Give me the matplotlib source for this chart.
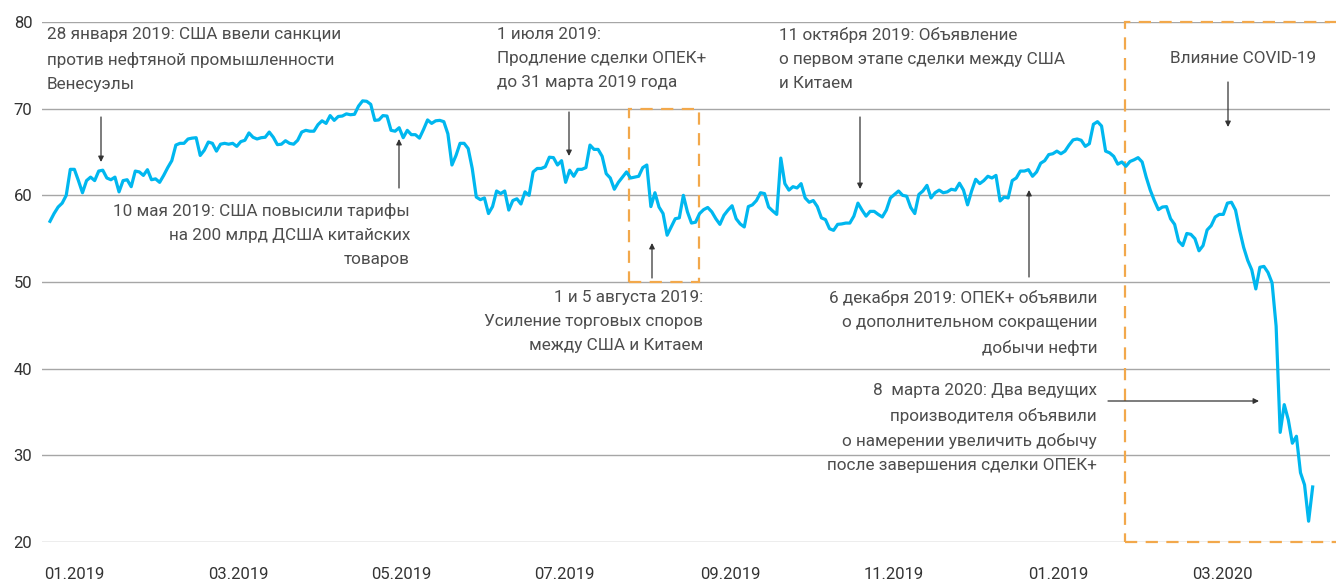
import matplotlib
matplotlib.use("Agg")
import matplotlib.pyplot as plt
from matplotlib.patches import Rectangle

plt.rcParams['font.family'] = ['Liberation Sans Narrow', 'Roboto', 'DejaVu Sans']

# ---------------- data (Brent, USD/bbl, daily trading observations) ----------------
price_2019_h1 = [
    57.0, 57.9, 58.65, 59.1, 60.0, 63.0, 63.0, 61.7, 60.3, 61.7,
    62.1, 61.7, 62.8, 62.9, 62.0, 61.8, 62.1, 60.4, 61.7, 61.8,
    61.0, 62.8, 62.7, 62.3, 62.96, 61.8, 61.9, 61.5, 62.3, 63.2,
    64.0, 65.8, 66.0, 66.0, 66.5, 66.6, 66.65, 64.6, 65.2, 66.15,
    66.0, 65.1, 65.9, 66.0, 65.9, 66.0, 65.65, 66.2, 66.35, 67.2,
    66.7, 66.5, 66.65, 66.7, 67.3, 66.7, 65.85, 65.9, 66.3, 66.0,
    65.9, 66.35, 67.3, 67.5, 67.4, 67.4, 68.15, 68.6, 68.3, 69.2,
    68.65, 69.1, 69.15, 69.4, 69.3, 69.35, 70.3, 70.9, 70.85, 70.5,
    68.65, 68.7, 69.2, 69.15, 67.5, 67.4, 67.8, 66.65, 67.5, 67.0,
    67.0, 66.6, 67.6, 68.7, 68.3, 68.6, 68.65, 68.5, 67.1, 63.5,
    64.6, 66.0, 66.0, 65.4, 63.1, 59.8, 59.5, 59.7, 57.9, 58.7,
    60.5, 60.2, 60.5, 58.3, 59.4, 59.6, 59.0, 60.4, 60.0, 62.7,
    63.1, 63.1, 63.3, 64.4, 64.35, 63.5, 64.0, 61.5, 62.9, 62.2,
]
price_2019_h2 = [
    63.0, 63.0, 63.2, 65.8, 65.3, 65.3, 64.5, 62.5, 62.0, 60.7,
    61.5, 62.1, 62.7, 62.0, 62.1, 62.2, 63.2, 63.5, 58.7, 60.3,
    58.65, 57.9, 55.4, 56.35, 57.3, 57.4, 60.0, 58.1, 56.8, 56.9,
    57.9, 58.35, 58.6, 58.1, 57.3, 56.65, 57.7, 58.3, 58.8, 57.3,
    56.7, 56.35, 58.7, 58.9, 59.4, 60.3, 60.2, 58.65, 58.2, 57.8,
    64.3, 61.35, 60.6, 61.0, 60.85, 61.35, 59.7, 59.2, 59.4, 58.7,
    57.4, 57.2, 56.15, 55.96, 56.65, 56.7, 56.8, 56.8, 57.6, 59.1,
    58.3, 57.6, 58.15, 58.15, 57.8, 57.5, 58.3, 59.7, 60.1, 60.5,
    60.0, 59.9, 58.6, 57.9, 60.1, 60.5, 61.15, 59.7, 60.3, 60.6,
    60.3, 60.4, 60.7, 60.6, 61.4, 60.6, 58.9, 60.5, 61.85, 61.35,
    61.7, 62.2, 62.0, 62.3, 59.35, 59.8, 59.7, 61.7, 62.0, 62.8,
    62.8, 62.96, 62.2, 62.7, 63.7, 64.0, 64.7, 64.8,
]
price_2020 = [
    65.1, 64.8, 65.1, 65.8, 66.4, 66.5, 66.35, 65.65, 65.96, 68.2,
    68.5, 68.0, 65.1, 64.9, 64.5, 63.6, 63.85, 63.35, 63.9, 64.1,
    64.35, 63.85, 62.1, 60.6, 59.4, 58.35, 58.65, 58.7, 57.3, 56.65,
    54.7, 54.2, 55.6, 55.5, 55.0, 53.6, 54.2, 56.0, 56.5, 57.5,
    57.8, 57.8, 59.1, 59.2, 58.3, 56.0, 54.0, 52.5, 51.4, 49.2,
    51.7, 51.8, 51.1, 49.9, 44.9, 32.65, 35.85, 34.1, 31.4, 32.2,
    28.0, 26.6, 22.4, 26.35,
]
price = price_2019_h1 + price_2019_h2 + price_2020

tick_labels = ["01.2019", "03.2019", "05.2019", "07.2019",
               "09.2019", "11.2019", "01.2019", "03.2020"]
y_ticks = [20, 30, 40, 50, 60, 70, 80]

# ---------------- layout ----------------
W, H = 1336, 581
fig = plt.figure(figsize=(W / 100, H / 100), dpi=100)
ax_l, ax_r, ax_t, ax_b = 42, 1330, 22, 542
ax = fig.add_axes([ax_l / W, 1 - ax_b / H, (ax_r - ax_l) / W, (ax_b - ax_t) / H])

x0_px, step_px = 50, 4.06          # pixel of first observation, pixels per observation
def ix(px):                          # pixel x -> observation index
    return (px - x0_px) / step_px
def fx(px):
    return px / W
def fy(py):
    return 1 - py / H

xs = list(range(len(price)))
ax.plot(xs, price, color='#00B7EF', lw=2.3, zorder=3, solid_joinstyle='round')

ax.set_xlim(ix(ax_l), ix(ax_r))
ax.set_ylim(20, 80)
ax.set_yticks(y_ticks)
ax.set_yticklabels([str(v) for v in y_ticks])
tick_px = [74, 238, 401, 564, 730, 894, 1058, 1222]
ax.set_xticks([ix(p) for p in tick_px])
ax.set_xticklabels(tick_labels)
ax.tick_params(axis='both', length=0, labelsize=12, labelcolor='#333333')
ax.tick_params(axis='x', pad=18)
ax.tick_params(axis='y', pad=7)
for s in ax.spines.values():
    s.set_visible(False)
ax.grid(axis='y', color='#A6A6A6', lw=1.0, zorder=0)
ax.set_axisbelow(True)

orange = '#F2A84B'
dash = (0, (5.5, 3.8))
r1 = Rectangle((ix(629), 50), ix(699) - ix(629), 20, fill=False,
               edgecolor=orange, lw=1.6, linestyle=dash, zorder=2)
ax.add_patch(r1)
r2 = Rectangle((ix(1125), 20), ix(1345) - ix(1125), 60, fill=False,
               edgecolor=orange, lw=1.6, linestyle=dash, zorder=2, clip_on=False)
ax.add_patch(r2)

tcol = '#4D4D4D'
fs = 12.3
ls = 1.74
def label(px, py, txt, ha):
    fig.text(fx(px), fy(py), txt, ha=ha, va='top', fontsize=fs, color=tcol,
             linespacing=ls, multialignment=ha)

label(47, 27, "28 января 2019: США ввели санкции\nпротив нефтяной промышленности\nВенесуэлы", 'left')
label(410, 203, "10 мая 2019: США повысили тарифы\nна 200 млрд ДСША китайских\nтоваров", 'right')
label(497, 27, "1 июля 2019:\nПродление сделки ОПЕК+\nдо 31 марта 2019 года", 'left')
label(779, 27, "11 октября 2019: Объявление\nо первом этапе сделки между США\nи Китаем", 'left')
label(703, 290, "1 и 5 августа 2019:\nУсиление торговых споров\nмежду США и Китаем", 'right')
label(1097, 290, "6 декабря 2019: ОПЕК+ объявили\nо дополнительном сокращении\nдобычи нефти", 'right')
label(1097, 383, "8  марта 2020: Два ведущих\nпроизводителя объявили\nо намерении увеличить добычу\nпосле завершения сделки ОПЕК+", 'right')
label(1243, 51, "Влияние COVID-19", 'center')

def arrow(x1, y1, x2, y2):
    fig.add_artist(matplotlib.patches.FancyArrowPatch(
        (fx(x1), fy(y1)), (fx(x2), fy(y2)), transform=fig.transFigure,
        arrowstyle='-|>', mutation_scale=8, lw=0.9, color='#333333',
        shrinkA=0, shrinkB=0, zorder=5))

arrow(101, 117, 101, 162)
arrow(399, 188, 399, 139)
arrow(569, 112, 569, 156)
arrow(652, 278, 652, 243)
arrow(860, 117, 860, 189)
arrow(1029, 277, 1029, 190)
arrow(1108, 401, 1259, 401)
arrow(1228, 82, 1228, 127)

fig.savefig("out.png", dpi=100)
